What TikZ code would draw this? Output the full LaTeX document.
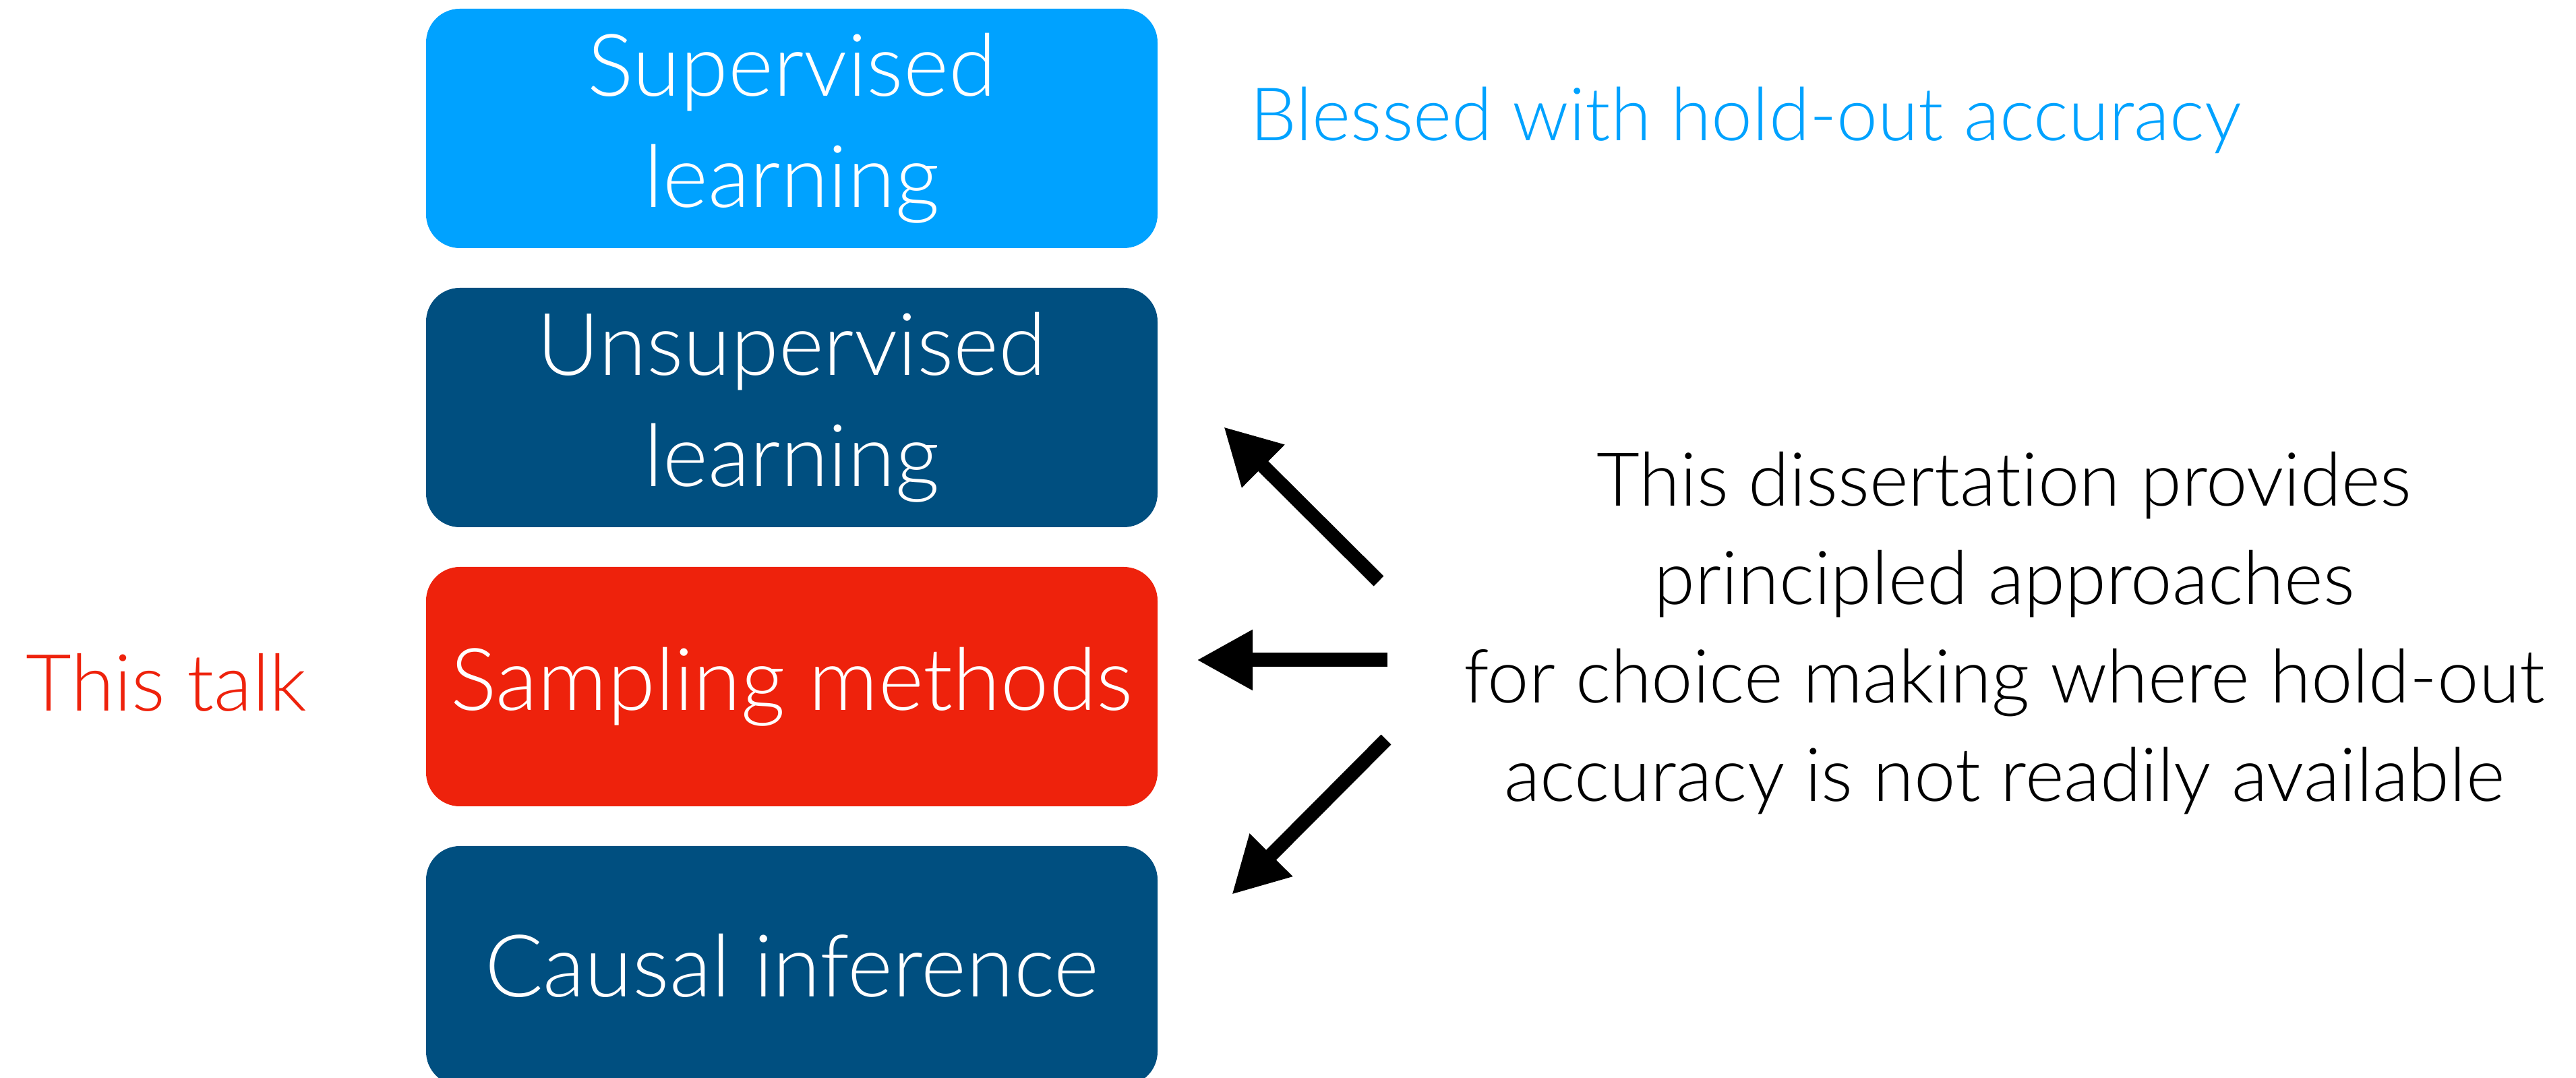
\documentclass[tikz,border=0pt]{standalone}
\usepackage{fontspec}
\setmainfont{Lato Light}[Ligatures=NoCommon]
\usetikzlibrary{arrows.meta}
\definecolor{lightblue}{HTML}{00A2FF}
\definecolor{darkblue}{HTML}{004F80}
\definecolor{keyred}{HTML}{EE220C}
\tikzset{
  box/.style={rounded corners=0.5cm, minimum width=10.85cm, minimum height=3.55cm,
    inner sep=0pt, text=white, align=center,
    font=\fontsize{36.5}{47}\selectfont},
  bigarrow/.style={line width=0.21cm, -{Triangle[length=0.83cm,width=0.84cm]}},
}
\begin{document}
\begin{tikzpicture}
\useasboundingbox (0,0) rectangle (38.21,15.99);
\node[box, fill=lightblue] (sup) at (11.745,14.085) {Supervised\\learning};
\node[box, fill=darkblue] (unsup) at (11.745,9.945) {Unsupervised\\learning};
\node[box, fill=keyred] (samp) at (11.745,5.805) {Sampling methods};
\node[box, fill=darkblue] (causal) at (11.745,1.665) {Causal inference};
\node[text=keyred, font=\fontsize{33.3}{40}\selectfont, anchor=base, inner sep=0pt] (talk) at (2.47,5.44) {This talk};
\node[text=lightblue, font=\fontsize{31.1}{40}\selectfont, anchor=base west, inner sep=0pt] (bless) at (18.54,13.90) {Blessed with hold-out accuracy};
\node[font=\fontsize{31.4}{41.5}\selectfont, align=center, inner sep=0pt] (diss) at (29.73,6.60)
  {This dissertation provides\\principled approaches\\for choice making where hold-out\\accuracy is not readily available};
\coordinate (t1) at (20.45,7.37);
\coordinate (h1) at (18.15,9.66);
\coordinate (t2) at (20.58,6.20);
\coordinate (h2) at (17.75,6.20);
\coordinate (t3) at (20.56,5.02);
\coordinate (h3) at (18.27,2.72);
\draw[bigarrow] (t1) -- (h1);
\draw[bigarrow] (t2) -- (h2);
\draw[bigarrow] (t3) -- (h3);
\end{tikzpicture}
\end{document}
